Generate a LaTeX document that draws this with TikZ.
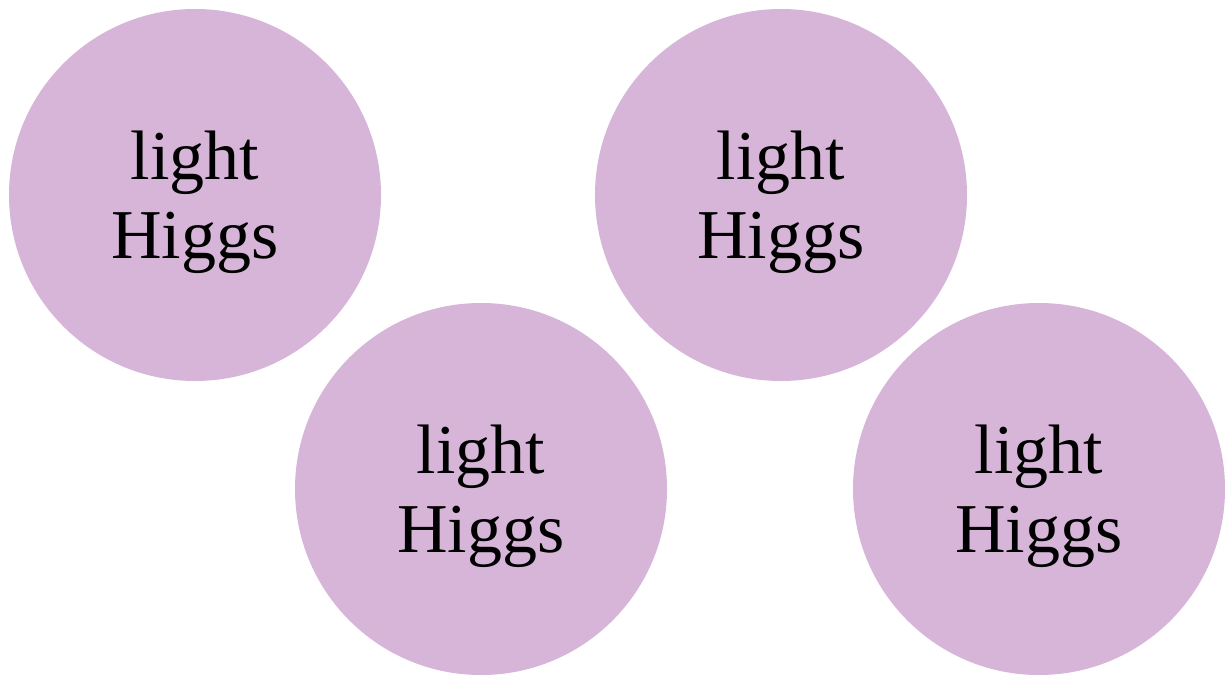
\documentclass[tikz,border=0pt]{standalone}
\usepackage{fontspec}
\setmainfont{Liberation Serif}
\definecolor{higgs}{RGB}{214,181,216}
\tikzset{
  ball/.style={circle, fill=higgs, draw=none, minimum size=372pt, inner sep=0pt},
  balltext/.style={align=center, font=\fontsize{70}{79}\selectfont, text=black, inner sep=0pt}
}
\begin{document}
\begin{tikzpicture}[x=1pt,y=-1pt]
\useasboundingbox[fill=white] (0,0) rectangle (1225,676);
\node[ball] (c1) at (195,195) {};
\node[ball] (c2) at (481,489) {};
\node[ball] (c3) at (781,195) {};
\node[ball] (c4) at (1039,489) {};
\node[balltext, yshift=-7pt] (t1) at (c1.center) {light\\Higgs};
\node[balltext, yshift=-7pt] (t2) at (c2.center) {light\\Higgs};
\node[balltext, yshift=-7pt] (t3) at (c3.center) {light\\Higgs};
\node[balltext, yshift=-7pt] (t4) at (c4.center) {light\\Higgs};
\end{tikzpicture}
\end{document}
